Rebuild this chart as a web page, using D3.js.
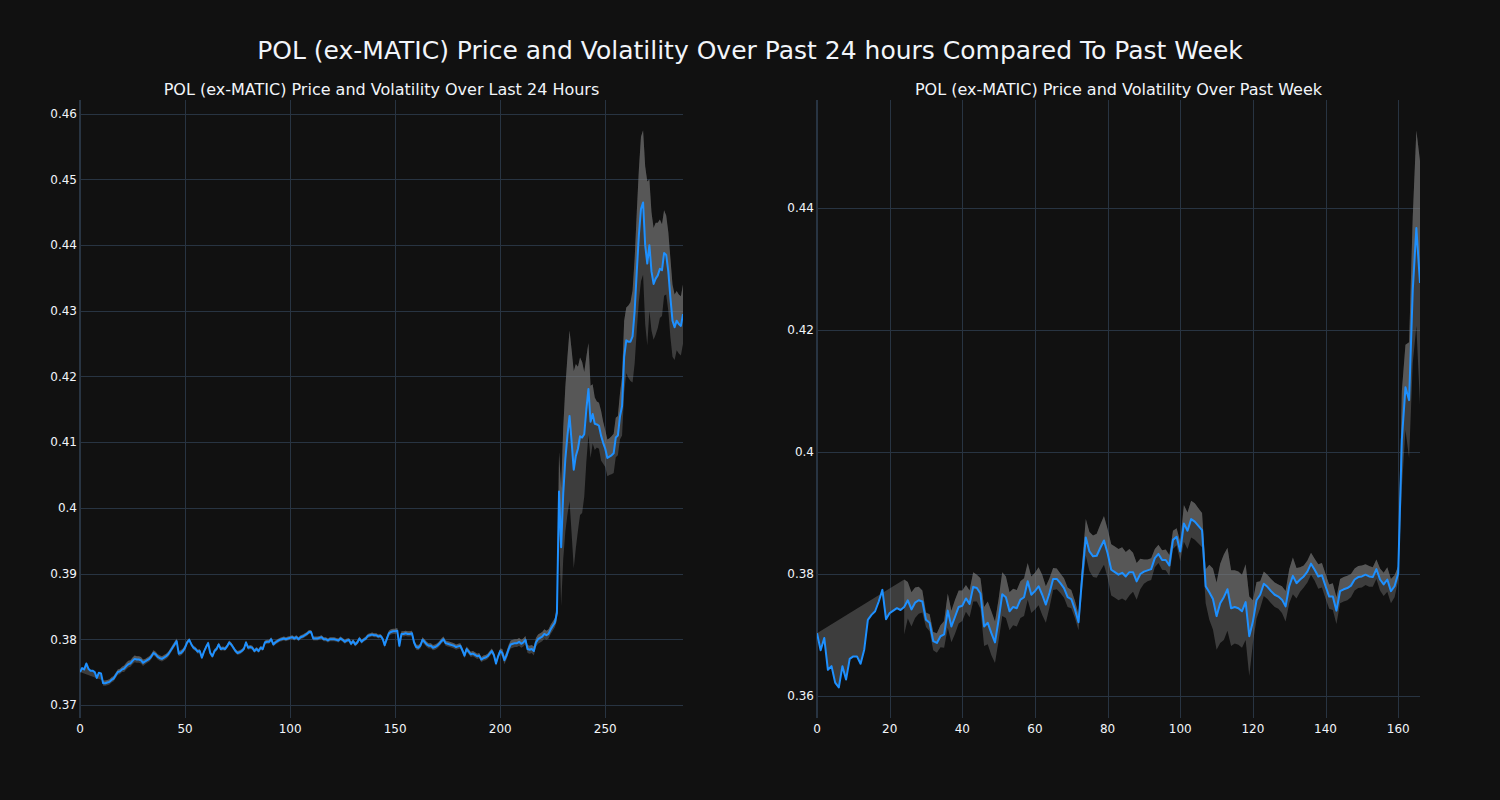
<!DOCTYPE html>
<html>
<head>
<meta charset="utf-8">
<script src="https://cdn.jsdelivr.net/npm/d3@7"></script>
<style>
  html, body { margin: 0; padding: 0; background: #111111; }
  svg { display: block; }
</style>
</head>
<body>
<svg id="chart" width="1500" height="800"></svg>
<script>
// ---------------- DATA ----------------
const mainTitle = "POL (ex-MATIC) Price and Volatility Over Past 24 hours Compared To Past Week";
const leftTitle = "POL (ex-MATIC) Price and Volatility Over Last 24 Hours";
const rightTitle = "POL (ex-MATIC) Price and Volatility Over Past Week";

// 24h price (5-minute steps), index 0..287
const dayPrice = [
0.3750,0.3756,0.3754,0.3763,0.3755,0.3752,0.3752,0.3750,0.3741,0.3749,
0.3748,0.3733,0.3733,0.3734,0.3735,0.3738,0.3740,0.3745,0.3750,0.3751,
0.3754,0.3755,0.3759,0.3762,0.3763,0.3767,0.3770,0.3769,0.3769,0.3768,
0.3764,0.3766,0.3768,0.3770,0.3774,0.3779,0.3777,0.3773,0.3771,0.3770,
0.3772,0.3774,0.3777,0.3782,0.3787,0.3792,0.3797,0.3778,0.3779,0.3782,
0.3787,0.3795,0.3799,0.3792,0.3787,0.3785,0.3781,0.3782,0.3772,0.3781,
0.3788,0.3794,0.3779,0.3774,0.3782,0.3785,0.3792,0.3785,0.3786,0.3785,
0.3789,0.3795,0.3792,0.3787,0.3782,0.3779,0.3780,0.3782,0.3785,0.3795,
0.3787,0.3788,0.3787,0.3782,0.3785,0.3782,0.3787,0.3785,0.3795,0.3796,
0.3796,0.3800,0.3792,0.3795,0.3797,0.3799,0.3800,0.3801,0.3800,0.3801,
0.3802,0.3803,0.3801,0.3803,0.3800,0.3803,0.3804,0.3806,0.3808,0.3811,
0.3811,0.3801,0.3801,0.3801,0.3802,0.3803,0.3800,0.3800,0.3798,0.3800,
0.3800,0.3800,0.3799,0.3798,0.3801,0.3799,0.3796,0.3798,0.3799,0.3793,
0.3797,0.3792,0.3795,0.3801,0.3796,0.3799,0.3801,0.3805,0.3806,0.3807,
0.3806,0.3806,0.3804,0.3805,0.3801,0.3791,0.3800,0.3809,0.3811,0.3812,
0.3812,0.3813,0.3790,0.3808,0.3808,0.3809,0.3808,0.3808,0.3809,0.3795,
0.3788,0.3787,0.3790,0.3799,0.3796,0.3792,0.3790,0.3790,0.3787,0.3788,
0.3790,0.3793,0.3797,0.3800,0.3794,0.3793,0.3792,0.3791,0.3790,0.3788,
0.3789,0.3790,0.3783,0.3775,0.3785,0.3781,0.3777,0.3778,0.3776,0.3774,
0.3775,0.3769,0.3771,0.3772,0.3774,0.3778,0.3782,0.3776,0.3763,0.3774,
0.3782,0.3779,0.3768,0.3775,0.3785,0.3792,0.3793,0.3794,0.3794,0.3796,
0.3793,0.3795,0.3799,0.3785,0.3784,0.3785,0.3782,0.3795,0.3800,0.3802,
0.3804,0.3808,0.3806,0.3808,0.3815,0.3820,0.3825,0.3840,0.4025,0.3940,
0.4022,0.4074,0.4110,0.4140,0.4100,0.4058,0.4079,0.4090,0.4109,0.4107,
0.4112,0.4150,0.4181,0.4131,0.4143,0.4128,0.4127,0.4125,0.4110,0.4099,
0.4090,0.4076,0.4078,0.4080,0.4083,0.4107,0.4110,0.4139,0.4155,0.4230,
0.4255,0.4253,0.4253,0.4261,0.4300,0.4360,0.4415,0.4455,0.4465,0.4400,
0.4372,0.4400,0.4360,0.4341,0.4349,0.4354,0.4364,0.4362,0.4388,0.4385,
0.4360,0.4320,0.4285,0.4275,0.4285,0.4280,0.4277,0.4295
];

// 24h rolling volatility (band half-width), null before the window fills
const dayVol = [
null,null,null,null,null,null,null,null,null,null,
null,0.0004,0.0004,0.0004,0.0004,0.0004,0.0004,0.0004,0.0004,0.0004,
0.0004,0.0005,0.0005,0.0005,0.0005,0.0005,0.0005,0.0005,0.0005,0.0005,
0.0005,0.0004,0.0004,0.0004,0.0004,0.0004,0.0004,0.0004,0.0004,0.0004,
0.0004,0.0004,0.0004,0.0004,0.0004,0.0004,0.0004,0.0004,0.0004,0.0004,
0.0004,0.0003,0.0003,0.0003,0.0003,0.0003,0.0003,0.0003,0.0003,0.0003,
0.0003,0.0003,0.0003,0.0003,0.0003,0.0003,0.0003,0.0003,0.0003,0.0003,
0.0003,0.0003,0.0003,0.0003,0.0003,0.0003,0.0003,0.0003,0.0003,0.0003,
0.0003,0.0003,0.0003,0.0003,0.0003,0.0003,0.0003,0.0003,0.0003,0.0003,
0.0003,0.0003,0.0003,0.0003,0.0003,0.0003,0.0003,0.0003,0.0003,0.0003,
0.0003,0.0003,0.0003,0.0003,0.0003,0.0003,0.0003,0.0003,0.0003,0.0003,
0.0003,0.0003,0.0003,0.0003,0.0003,0.0003,0.0003,0.0003,0.0003,0.0003,
0.0003,0.0003,0.0003,0.0003,0.0003,0.0003,0.0003,0.0003,0.0003,0.0003,
0.0003,0.0003,0.0003,0.0003,0.0003,0.0003,0.0003,0.0003,0.0003,0.0003,
0.0003,0.0003,0.0003,0.0003,0.0003,0.0004,0.0004,0.0004,0.0004,0.0004,
0.0004,0.0004,0.0004,0.0004,0.0004,0.0004,0.0004,0.0004,0.0004,0.0004,
0.0004,0.0004,0.0004,0.0004,0.0004,0.0004,0.0004,0.0004,0.0004,0.0004,
0.0004,0.0004,0.0004,0.0004,0.0004,0.0004,0.0004,0.0004,0.0004,0.0004,
0.0004,0.0004,0.0004,0.0004,0.0004,0.0004,0.0004,0.0004,0.0004,0.0004,
0.0004,0.0004,0.0004,0.0004,0.0004,0.0004,0.0004,0.0004,0.0004,0.0004,
0.0004,0.0006,0.0006,0.0006,0.0006,0.0006,0.0006,0.0006,0.0006,0.0006,
0.0006,0.0006,0.0006,0.0006,0.0006,0.0006,0.0007,0.0007,0.0007,0.0007,
0.0007,0.0007,0.0007,0.0007,0.0007,0.0007,0.0007,0.0012,0.0060,0.0090,
0.0100,0.0110,0.0120,0.0130,0.0140,0.0150,0.0140,0.0125,0.0120,0.0115,
0.0095,0.0080,0.0070,0.0055,0.0045,0.0040,0.0035,0.0035,0.0038,0.0032,
0.0028,0.0028,0.0028,0.0029,0.0030,0.0030,0.0030,0.0035,0.0045,0.0055,
0.0050,0.0055,0.0060,0.0070,0.0080,0.0090,0.0100,0.0110,0.0110,0.0120,
0.0125,0.0100,0.0090,0.0085,0.0085,0.0080,0.0075,0.0070,0.0065,0.0060,
0.0060,0.0060,0.0055,0.0050,0.0045,0.0045,0.0045,0.0045
];

// Week price (hourly), index 0..166
const weekPrice = [
0.3703,0.3675,0.3695,0.3643,0.3649,0.3622,0.3614,0.3649,0.3627,0.3661,
0.3665,0.3665,0.3653,0.3676,0.3725,0.3733,0.3739,0.3755,0.3774,0.3726,
0.3736,0.3740,0.3744,0.3741,0.3746,0.3757,0.3742,0.3753,0.3757,0.3755,
0.3725,0.3720,0.3690,0.3687,0.3698,0.3701,0.3740,0.3714,0.3730,0.3746,
0.3748,0.3760,0.3751,0.3779,0.3777,0.3768,0.3714,0.3720,0.3703,0.3688,
0.3725,0.3767,0.3762,0.3739,0.3746,0.3744,0.3758,0.3762,0.3788,0.3766,
0.3772,0.3780,0.3766,0.3750,0.3769,0.3792,0.3792,0.3785,0.3777,0.3762,
0.3759,0.3742,0.3721,0.3796,0.3860,0.3837,0.3829,0.3830,0.3843,0.3855,
0.3834,0.3807,0.3803,0.3799,0.3802,0.3796,0.3803,0.3803,0.3788,0.3800,
0.3804,0.3806,0.3808,0.3826,0.3833,0.3823,0.3823,0.3814,0.3856,0.3861,
0.3837,0.3883,0.3871,0.3890,0.3886,0.3879,0.3872,0.3780,0.3770,0.3759,
0.3731,0.3752,0.3762,0.3775,0.3744,0.3746,0.3744,0.3739,0.3754,0.3698,
0.3722,0.3757,0.3766,0.3784,0.3779,0.3772,0.3766,0.3763,0.3758,0.3747,
0.3780,0.3797,0.3785,0.3791,0.3796,0.3804,0.3817,0.3807,0.3796,0.3798,
0.3780,0.3763,0.3763,0.3740,0.3772,0.3775,0.3777,0.3781,0.3791,0.3795,
0.3796,0.3799,0.3796,0.3795,0.3808,0.3791,0.3783,0.3791,0.3772,0.3780,
0.3801,0.4020,0.4106,0.4085,0.4265,0.4367,0.4277
];

// Week rolling volatility (band half-width)
const weekVol = [
null,null,null,null,null,null,null,null,null,null,
null,null,null,null,null,null,null,null,null,null,
null,null,null,null,0.0045,0.0030,0.0028,0.0025,0.0022,0.0018,
0.0012,0.0014,0.0015,0.0016,0.0018,0.0022,0.0028,0.0026,0.0028,0.0027,
0.0025,0.0022,0.0022,0.0024,0.0022,0.0025,0.0032,0.0035,0.0036,0.0034,
0.0034,0.0036,0.0034,0.0031,0.0030,0.0030,0.0030,0.0031,0.0030,0.0030,
0.0030,0.0031,0.0033,0.0030,0.0024,0.0018,0.0017,0.0016,0.0016,0.0016,
0.0015,0.0014,0.0013,0.0022,0.0030,0.0032,0.0034,0.0036,0.0038,0.0040,
0.0040,0.0042,0.0042,0.0042,0.0042,0.0040,0.0038,0.0032,0.0030,0.0025,
0.0020,0.0018,0.0018,0.0015,0.0015,0.0016,0.0017,0.0017,0.0015,0.0014,
0.0016,0.0030,0.0030,0.0030,0.0030,0.0029,0.0028,0.0028,0.0045,0.0050,
0.0055,0.0065,0.0070,0.0068,0.0062,0.0060,0.0060,0.0060,0.0062,0.0065,
0.0035,0.0030,0.0022,0.0020,0.0020,0.0020,0.0020,0.0020,0.0022,0.0025,
0.0028,0.0030,0.0025,0.0020,0.0018,0.0018,0.0018,0.0018,0.0020,0.0020,
0.0020,0.0020,0.0022,0.0022,0.0020,0.0020,0.0020,0.0019,0.0018,0.0018,
0.0018,0.0017,0.0017,0.0016,0.0016,0.0018,0.0019,0.0020,0.0020,0.0018,
0.0012,0.0080,0.0070,0.0095,0.0120,0.0160,0.0200
];

const dayXTicks = [0, 50, 100, 150, 200, 250];
const dayYTicks = [0.37, 0.38, 0.39, 0.40, 0.41, 0.42, 0.43, 0.44, 0.45, 0.46];
const weekXTicks = [0, 20, 40, 60, 80, 100, 120, 140, 160];
const weekYTicks = [0.36, 0.38, 0.40, 0.42, 0.44];
const dayXRange = [0, 287];
const dayYRange = [0.3680, 0.4621];
const weekXRange = [0, 166];
const weekYRange = [0.3564, 0.4577];

// ---------------- DRAW ----------------
const svg = d3.select("#chart");
const FONT = "'DejaVu Sans', 'Open Sans', sans-serif";
const TEXT = "#f2f5fa";
const GRID = "#283442";
const LINE = "rgb(30,144,255)";
const FILL = "rgba(128,128,128,0.4)";

svg.append("rect").attr("width", 1500).attr("height", 800).attr("fill", "#111111");

svg.append("text")
  .attr("x", 750).attr("y", 59)
  .attr("text-anchor", "middle")
  .attr("font-family", FONT).attr("font-size", 25)
  .attr("fill", TEXT)
  .text(mainTitle);

function yFmt(v) { return d3.format("~g")(+v.toFixed(4)); }

function panel(opts) {
  const { left, right, top, bottom, price, vol, xRange, yRange, xTicks, yTicks, title } = opts;
  const x = d3.scaleLinear().domain(xRange).range([left, right]);
  const y = d3.scaleLinear().domain(yRange).range([bottom, top]);
  const g = svg.append("g");

  // grid
  g.selectAll(".hg").data(yTicks).enter().append("line")
    .attr("x1", left).attr("x2", right)
    .attr("y1", d => Math.round(y(d)) + 0.5).attr("y2", d => Math.round(y(d)) + 0.5)
    .attr("stroke", GRID).attr("stroke-width", 1);
  g.selectAll(".vg").data(xTicks.filter(d => d !== 0)).enter().append("line")
    .attr("y1", top).attr("y2", bottom)
    .attr("x1", d => Math.round(x(d)) + 0.5).attr("x2", d => Math.round(x(d)) + 0.5)
    .attr("stroke", GRID).attr("stroke-width", 1);
  // zero line at x = 0
  g.append("line")
    .attr("y1", top).attr("y2", bottom)
    .attr("x1", x(0)).attr("x2", x(0))
    .attr("stroke", GRID).attr("stroke-width", 2);

  // clip
  const cid = "clip" + Math.round(left);
  svg.append("clipPath").attr("id", cid).append("rect")
    .attr("x", left).attr("y", top).attr("width", right - left).attr("height", bottom - top);
  const pg = g.append("g").attr("clip-path", `url(#${cid})`);

  const pts = price.map((p, i) => ({ i, p, v: vol[i] }));
  const priceLine = pts.map(d => [x(d.i), y(d.p)]);
  const upper = pts.filter(d => d.v != null).map(d => [x(d.i), y(d.p + d.v)]);
  const lower = pts.filter(d => d.v != null).map(d => [x(d.i), y(d.p - d.v)]);
  const poly = d3.line();

  // fill from price to upper band (tonexty)
  pg.append("path")
    .attr("d", poly(upper.concat(priceLine.slice().reverse())) + "Z")
    .attr("fill", FILL).attr("stroke", "none");
  // fill from upper band to lower band (tonexty)
  pg.append("path")
    .attr("d", poly(lower.concat(upper.slice().reverse())) + "Z")
    .attr("fill", FILL).attr("stroke", "none");

  pg.append("path")
    .attr("d", poly(priceLine))
    .attr("fill", "none").attr("stroke", LINE).attr("stroke-width", 2)
    .attr("stroke-linejoin", "round");

  // tick labels
  g.selectAll(".yl").data(yTicks).enter().append("text")
    .attr("x", left - 3).attr("y", d => y(d))
    .attr("dy", "0.36em")
    .attr("text-anchor", "end")
    .attr("font-family", FONT).attr("font-size", 12).attr("fill", TEXT)
    .text(d => yFmt(d));
  g.selectAll(".xl").data(xTicks).enter().append("text")
    .attr("x", d => x(d)).attr("y", bottom + 15)
    .attr("text-anchor", "middle")
    .attr("font-family", FONT).attr("font-size", 12).attr("fill", TEXT)
    .text(d => d);

  svg.append("text")
    .attr("x", (left + right) / 2).attr("y", 95)
    .attr("text-anchor", "middle")
    .attr("font-family", FONT).attr("font-size", 16).attr("fill", TEXT)
    .text(title);
}

panel({ left: 80, right: 683, top: 100, bottom: 718, price: dayPrice, vol: dayVol,
  xRange: dayXRange, yRange: dayYRange, xTicks: dayXTicks, yTicks: dayYTicks, title: leftTitle });
panel({ left: 817, right: 1420, top: 100, bottom: 718, price: weekPrice, vol: weekVol,
  xRange: weekXRange, yRange: weekYRange, xTicks: weekXTicks, yTicks: weekYTicks, title: rightTitle });
</script>
</body>
</html>
